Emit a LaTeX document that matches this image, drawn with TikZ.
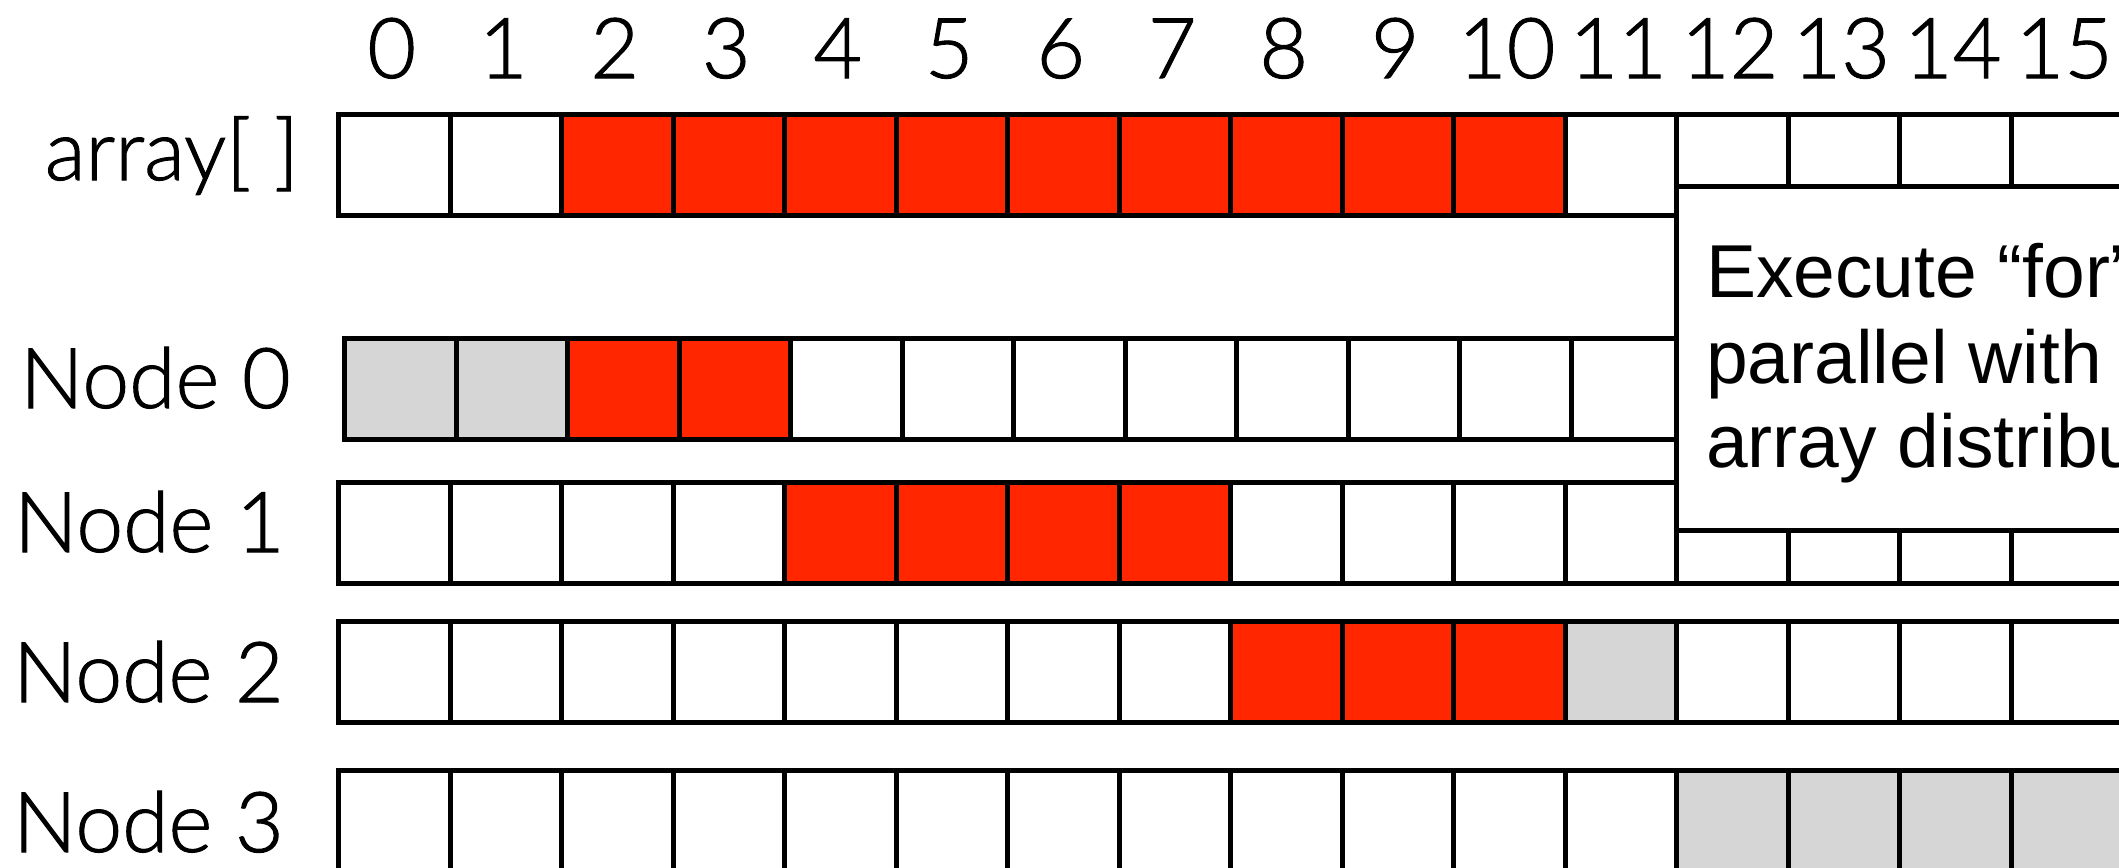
\documentclass[tikz,border=0pt]{standalone}
\usepackage{fontspec}
\setmainfont{Liberation Sans}
\IfFontExistsTF{Lato Light}{\newfontfamily\lightfont[FakeBold=1.2]{Lato Light}}{%
  \IfFontExistsTF{Fira Sans Light}{\newfontfamily\lightfont{Fira Sans Light}}{\newfontfamily\lightfont{Liberation Sans}}}
\definecolor{cred}{HTML}{FF2600}
\definecolor{cgray}{HTML}{D6D6D6}
\tikzset{
  cell/.style={draw=black, line width=5pt, minimum width=111.5pt, minimum height=101pt, inner sep=0pt, anchor=north west},
  idx/.style={font=\lightfont\fontsize{84}{100}\selectfont, inner sep=0pt, anchor=base},
  lbl/.style={font=\lightfont\fontsize{84}{100}\selectfont, inner sep=0pt},
  note/.style={font=\fontsize{75}{90}\selectfont, inner sep=0pt, anchor=base west},
  notebox/.style={draw=black, fill=white, line width=5pt, inner sep=0pt, anchor=north west, minimum width=480pt, minimum height=344pt},
}
\newcommand\myrow[4]{%
  \foreach \c [count=\i from 0] in {#4}{%
    \node[cell, fill=\c] (#1\i) at ({#2+111.5*\i},#3) {};}}
\begin{document}
\begin{tikzpicture}[x=1pt,y=-1pt]
\useasboundingbox (0,0) rectangle (2119,867);
\clip (0,0) rectangle (2119,867);
\fill[white] (0,0) rectangle (2119,867);
% index digits
\foreach \i in {0,...,15}{\node[idx] (d\i) at ({336+111.5*(\i+0.5)},78) {\i};}
% rows
\myrow{A}{336}{112}{white,white,cred,cred,cred,cred,cred,cred,cred,cred,cred,white,white,white,white,white}
\myrow{P}{342}{336}{cgray,cgray,cred,cred,white,white,white,white,white,white,white,white,white,white,white,white}
\myrow{Q}{336}{480}{white,white,white,white,cred,cred,cred,cred,white,white,white,white,white,white,white,white}
\myrow{R}{336}{619}{white,white,white,white,white,white,white,white,cred,cred,cred,cgray,white,white,white,white}
\myrow{S}{336}{768}{white,white,white,white,white,white,white,white,white,white,white,white,cgray,cgray,cgray,cgray}
% labels
\node[lbl, anchor=base east] (larr) at (299,180) {array[ ]};
\node[lbl, anchor=base west] (l0) at (20,408) {Node 0};
\node[lbl, anchor=base west] (l1) at (14,552) {Node 1};
\node[lbl, anchor=base west] (l2) at (13,702) {Node 2};
\node[lbl, anchor=base west] (l3) at (13,852) {Node 3};
% note box
\node[notebox] (box) at (1674,184) {};
\node[note] (t1) at (1706,297) {Execute “for”};
\node[note] (t2) at (1706,383) {parallel with};
\node[note] (t3) at (1706,467) {array distribu};
\end{tikzpicture}
\end{document}
